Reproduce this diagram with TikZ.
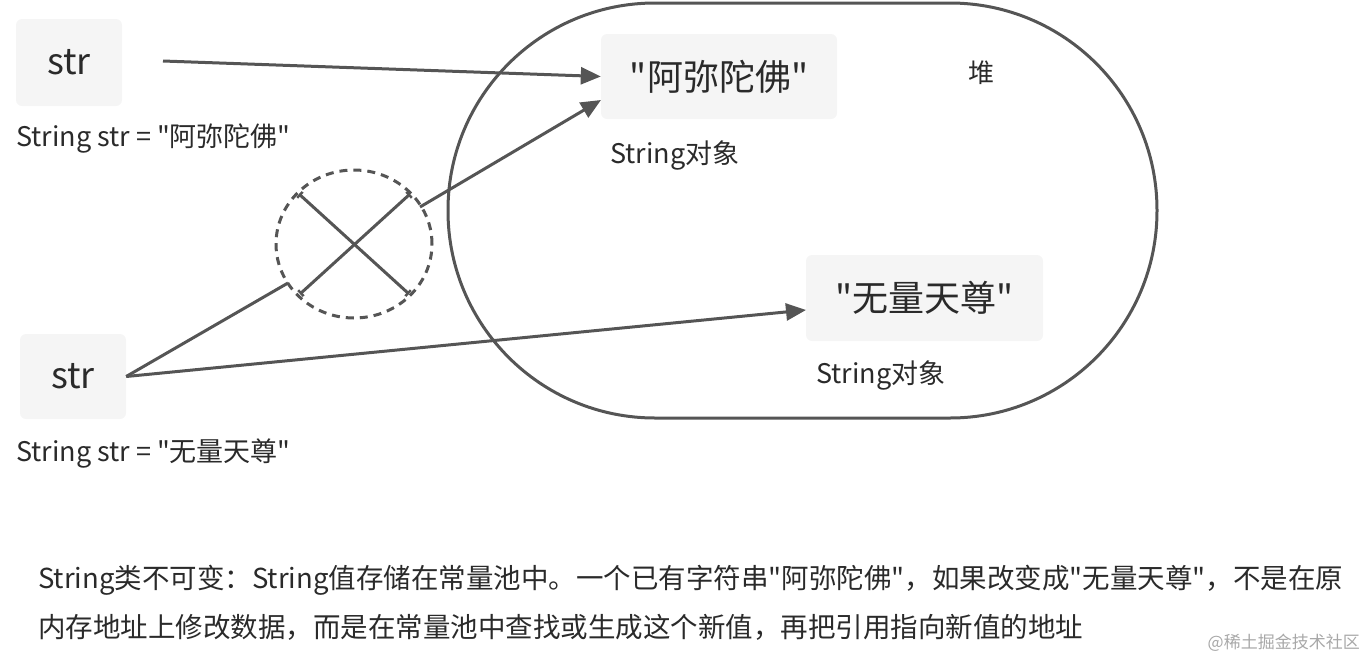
\documentclass[tikz,border=0pt]{standalone}
\usepackage{fontspec}
\setmainfont{Noto Sans CJK SC}[Ligatures=TeXOff]
\usetikzlibrary{arrows.meta,shapes.geometric}
\definecolor{linec}{HTML}{555555}
\definecolor{boxfill}{HTML}{F5F5F5}
\definecolor{txt}{HTML}{2A2A2A}
\definecolor{wm}{HTML}{A8A8A8}
\tikzset{
  cell/.style={fill=boxfill, draw=none, rounded corners=6pt, inner sep=0pt, text=txt},
  lbl/.style={anchor=west, inner sep=0pt, text=txt, font=\fontsize{27}{32}\selectfont},
  conn/.style={draw=linec, line width=3pt},
  arr/.style={conn, -{Triangle[length=20pt,width=17pt]}},
  crossline/.style={conn, {Bar[width=8pt,line width=2.5pt]}-{Bar[width=8pt,line width=2.5pt]}},
}
\begin{document}
\begin{tikzpicture}[x=1pt,y=-1pt]
\useasboundingbox (0,0) rectangle (1366,662);
% heap
\draw[draw=linec, line width=3pt, rounded corners=207pt] (448,3) rectangle (1157,418);
\node[text=txt, font=\fontsize{26}{30}\selectfont, inner sep=0pt] (heap) at (981,73) {堆};
% boxes
\node[cell, minimum width=106pt, minimum height=87pt, font=\fontsize{36}{40}\selectfont] (s1) at (69,62.5) {str};
\node[cell, minimum width=106pt, minimum height=85pt, font=\fontsize{36}{40}\selectfont] (s2) at (73,376.5) {str};
\node[cell, minimum width=236pt, minimum height=85pt, font=\fontsize{36}{40}\selectfont] (A) at (719,76.5) {"阿弥陀佛"};
\node[cell, minimum width=237pt, minimum height=86pt, font=\fontsize{36}{40}\selectfont] (B) at (924.5,298) {"无量天尊"};
% labels
\node[lbl] (l1) at (16,139) {String str = "阿弥陀佛"};
\node[lbl] (l2) at (16,453) {String str = "无量天尊"};
\node[lbl] (lA) at (610,155) {String对象};
\node[lbl] (lB) at (816,375) {String对象};
% crossed-out circle
\node[draw=linec, line width=3pt, dash pattern=on 8pt off 6pt, ellipse, minimum width=156pt, minimum height=148pt, inner sep=0pt] (c) at (354,244) {};
\coordinate (x1) at (299,194);
\coordinate (x2) at (409,294);
\coordinate (x3) at (300,294);
\coordinate (x4) at (410,194);
\draw[crossline] (x1) -- (x2);
\draw[crossline] (x3) -- (x4);
% connectors
\coordinate (p1) at (163,61);
\draw[arr] (p1) -- (A.west);
\coordinate (c1) at (288,283);
\coordinate (c2) at (420,207);
\coordinate (a2) at (601,100);
\draw[conn] (s2.east) -- (c1);
\draw[arr] (c2) -- (a2);
\coordinate (b1) at (806,310);
\draw[arr] (s2.east) -- (b1);
% bottom text
\node[anchor=west, inner sep=0pt, text=txt, font=\fontsize{27.5}{32}\selectfont] (t1) at (38,580) {String类不可变：String值存储在常量池中。一个已有字符串"阿弥陀佛"，如果改变成"无量天尊"，不是在原};
\node[anchor=west, inner sep=0pt, text=txt, font=\fontsize{27.5}{32}\selectfont] (t2) at (38,627) {内存地址上修改数据，而是在常量池中查找或生成这个新值，再把引用指向新值的地址};
\node[anchor=east, inner sep=0pt, text=wm, font=\fontsize{17}{20}\selectfont] (wmk) at (1360,643) {@稀土掘金技术社区};
\end{tikzpicture}
\end{document}
